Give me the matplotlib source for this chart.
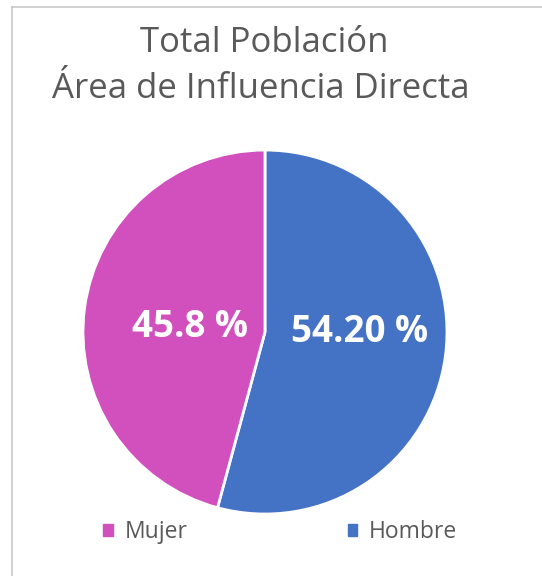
import matplotlib.pyplot as plt
from matplotlib.lines import Line2D
from matplotlib.patches import Patch

plt.rcParams['font.family'] = ['Open Sans', 'DejaVu Sans']

title_lines = ['Total Población', 'Área de Influencia Directa']
categorias = ['Hombre', 'Mujer']
valores = [54.20, 45.8]
etiquetas = ['54.20 %', '45.8 %']
colores = ['#4472C4', '#D24FBE']
orden_leyenda = ['Mujer', 'Hombre']

fig = plt.figure(figsize=(5.42, 5.76), dpi=100)

# marco gris (solo arriba e izquierda, como en la imagen)
fig.add_artist(Line2D([0.022, 1.0], [0.988, 0.988], color='#C8C8C8', lw=1.2))
fig.add_artist(Line2D([0.022, 0.022], [0.0, 0.988], color='#C8C8C8', lw=1.2))

fig.text(0.487, 0.925, title_lines[0], ha='center', va='center',
         fontsize=25, color='#595959')
fig.text(0.482, 0.845, title_lines[1], ha='center', va='center',
         fontsize=25, color='#595959')

ax = fig.add_axes([0.1531, 0.1076, 0.6716, 0.6319])
wedges, texts = ax.pie(valores, colors=colores, startangle=90, counterclock=False,
                       wedgeprops=dict(edgecolor='white', linewidth=2))
ax.set_xlim(-1, 1)
ax.set_ylim(-1, 1)
ax.set_aspect('equal')
ax.axis('off')

pos = {'Hombre': (0.52, 0.0), 'Mujer': (-0.41, 0.03)}
for cat, lab in zip(categorias, etiquetas):
    x, y = pos[cat]
    ax.text(x, y, lab, ha='center', va='center', color='white',
            fontsize=26.5, fontweight='bold')

handles = [Patch(color=colores[categorias.index(c)]) for c in orden_leyenda]
fig.legend(handles, orden_leyenda, loc='center', bbox_to_anchor=(0.517, 0.076),
           ncol=2, frameon=False, fontsize=16.5, labelcolor='#595959',
           handlelength=0.42, handleheight=0.42, handletextpad=0.5,
           columnspacing=7.0)

fig.savefig('out.png', dpi=100)
